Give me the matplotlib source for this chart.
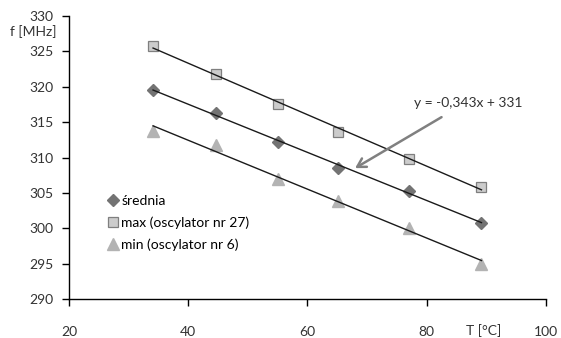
"""Oscillator frequency vs temperature with linear trendlines."""

import numpy as np
import matplotlib
matplotlib.use("Agg")
import matplotlib.pyplot as plt

OUTPUT_PNG = "out.png"

# temperature [°C]
temp = [34.1, 44.7, 55.0, 65.1, 77.1, 89.2]
# frequency [MHz]
f_mean = [319.5, 316.3, 312.2, 308.5, 305.3, 300.8]
f_max = [325.8, 321.8, 317.5, 313.6, 309.8, 305.9]
f_min = [313.7, 311.8, 307.0, 303.9, 300.0, 295.0]

labels = ["średnia", "max (oscylator nr 27)", "min (oscylator nr 6)"]
equation = "y = -0,343x + 331"
x_ticks = [20, 40, 60, 80, 100]
y_ticks = [290, 295, 300, 305, 310, 315, 320, 325, 330]

plt.rcParams["font.family"] = ["Lato", "DejaVu Sans"]


def main():
    fig = plt.figure(figsize=(5.61, 3.38), dpi=100)
    ax = fig.add_axes([0.123, 0.115, 0.850, 0.838])

    styles = [
        dict(marker="D", ms=6.5, color="#737373", mec="#737373"),
        dict(marker="s", ms=6.5, color="#cccccc", mec="#7f7f7f", mew=0.9),
        dict(marker="^", ms=8, color="#b3b3b3", mec="#b3b3b3"),
    ]
    series = [f_mean, f_max, f_min]
    x = np.array(temp)

    for ys, st, lab in zip(series, styles, labels):
        k, b = np.polyfit(x, ys, 1)
        ax.plot([x[0], x[-1]], [k * x[0] + b, k * x[-1] + b],
                color="#1a1a1a", lw=1.0, zorder=3)
        ax.plot(x, ys, ls="none", label=lab, zorder=2, **st)

    # trendline equation with arrow pointing at the mean series
    ax.text(77.9, 317.7, equation, fontsize=10, color="#333333",
            va="center", ha="left")
    ax.annotate("", xy=(68.0, 308.5), xytext=(82.5, 315.7),
                arrowprops=dict(arrowstyle="->,head_length=0.6,head_width=0.35",
                                color="#808080", lw=1.8, shrinkA=0, shrinkB=0))

    ax.set_xlim(20, 100)
    ax.set_ylim(290, 330)
    ax.set_xticks(x_ticks)
    ax.set_yticks(y_ticks)
    ax.tick_params(axis="both", direction="out", length=5, width=1,
                   labelsize=10, labelcolor="#333333")
    ax.tick_params(axis="x", pad=14)
    ax.tick_params(axis="y", pad=6)
    for s in ("top", "right"):
        ax.spines[s].set_visible(False)
    for s in ("left", "bottom"):
        ax.spines[s].set_linewidth(1.0)

    fig.text(57 / 561, 1 - 32 / 338, "f [MHz]", ha="right", va="center",
             fontsize=10, color="#333333")
    fig.text(484 / 561, 1 - 331 / 338, "T [°C]", ha="center", va="center",
             fontsize=10, color="#333333")

    ax.legend(loc="upper left", bbox_to_anchor=(0.066, 0.389), frameon=False,
              fontsize=10, handletextpad=0.1, handlelength=1.0,
              labelspacing=0.7, borderaxespad=0)

    fig.savefig(OUTPUT_PNG, dpi=100)


if __name__ == "__main__":
    main()
